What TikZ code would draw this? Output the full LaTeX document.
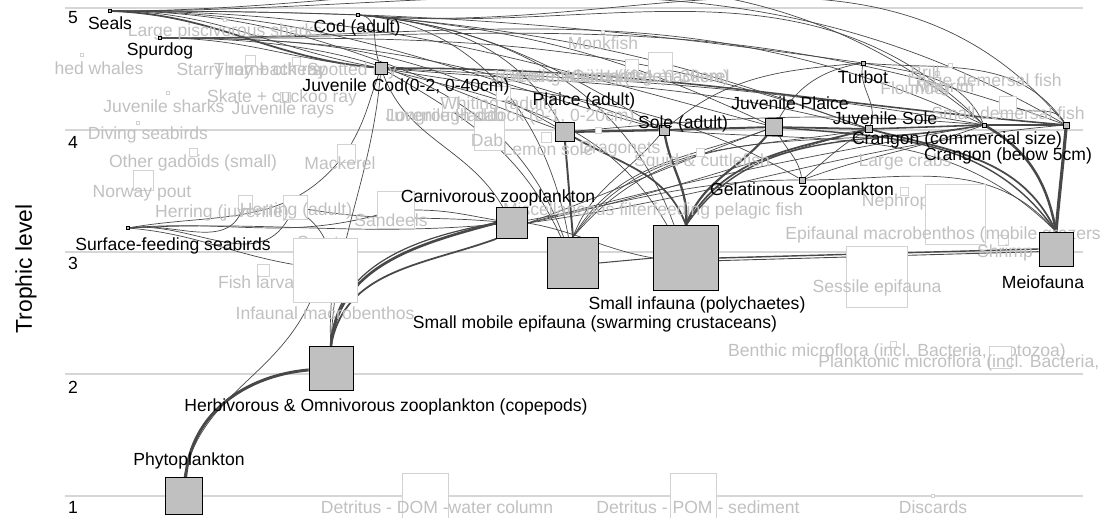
\documentclass[tikz,border=0pt]{standalone}
\usepackage{fontspec}
\setmainfont{Liberation Sans}
\usetikzlibrary{positioning}
\definecolor{eltgray}{RGB}{192,192,192}
\definecolor{ghost}{RGB}{192,192,192}
\definecolor{ghostline}{RGB}{210,210,210}
\definecolor{gridgray}{RGB}{214,214,214}
\definecolor{flow}{RGB}{72,72,72}
\pgfdeclarelayer{bg}
\pgfsetlayers{bg,main}

\begin{document}
\begin{tikzpicture}[
			x=0.02cm, y=-0.02cm, % one unit = one pixel of the plot
			elt/.style={rectangle,draw=black,fill=eltgray,inner sep=0pt,minimum size=#1*0.2mm},
			pale/.style={rectangle,draw=ghostline,fill=white,inner sep=0pt,minimum size=#1*0.2mm},
			lbl/.style={inner sep=0pt,font=\fontsize{10}{12}\selectfont},
			glbl/.style={lbl,text=ghost},
			flux/.style={draw=flow,line width=#1},
			flux/.default=0.4pt]
		\useasboundingbox (0,0) rectangle (1101,517);

		% axis
		\begin{pgfonlayer}{bg}
			\foreach \y in {8,130,252,374,496}
				\draw[gridgray,line width=0.6pt] (65,\y) -- (1083,\y);
		\end{pgfonlayer}
		\foreach \y/\l in {18/5,142/4,263/3,387/2,507/1}
			\node[lbl] (tl\l) at (73,\y) {\l};
		\node[lbl,font=\fontsize{13}{15}\selectfont,rotate=90] (ylab) at (26,269) {Trophic level};

		% groups outside the highlighted web
		\path 	(225,20) 	node (lps-n) 	[pale=3] {}
				(82,55) 	node (whales-n) [pale=3] {}
				(250,60) 	node (starry-n) [pale=10] {}
				(296,61) 	node (spotted-n) [pale=8] {}
				(168,93) 	node (jshark-n) [pale=3] {}
				(285,97) 	node (skate-n) 	[pale=10] {}
				(138,123) 	node (diving-n) [pale=3] {}
				(193,152) 	node (othgad-n) [pale=8] {}
				(346,153) 	node (mackerel-n) [pale=18] {}
				(143,180) 	node (norway-n) [pale=20] {}
				(245,202) 	node (herrj-n) 	[pale=14] {}
				(295,207) 	node (herra-n) 	[pale=24] {}
				(396,210) 	node (sandeel-n) [pale=37] {}
				(263,270) 	node (larvae-n) [pale=12] {}
				(603,32) 	node (monk-n) 	[pale=3] {}
				(632,66) 	node (gurn-n) 	[pale=13] {}
				(660,64) 	node (horse-n) 	[pale=24] {}
				(450,105) 	node (whiting-n) [pale=15] {}
				(503,93) 	node (jwhit-n) 	[pale=14] {}
				(489,135) 	node (dab-n) 	[pale=30] {}
				(546,137) 	node (lemon-n) 	[pale=10] {}
				(598,130) 	node (drag-n) 	[pale=6] {}
				(700,152) 	node (squid-n) 	[pale=8] {}
				(904,191) 	node (nephrops-n) [pale=8] {}
				(1003,240) 	node (shrimp-n) [pale=10] {}
				(877,277) 	node (sessile-n) [pale=61] {}
				(893,344) 	node (benthic-n) [pale=6] {}
				(425,496) 	node (dom-n) 	[pale=46] {}
				(693,496) 	node (pom-n) 	[pale=46] {}
				(933,496) 	node (discards-n) [pale=3] {}
				(1008,105) 	node (smdem-n) 	[pale=17] {}
				(950,65) 	node (brill-n) 	[pale=4] {}
				(937,73) 	node (flounder-n) [pale=4] {};

		\path 	(225,32) 	node (lps) 		[glbl] {Large piscivorous sharks}
				(99,68) 	node (whales) 	[glbl] {hed whales}
				(249,71) 	node (starry) 	[glbl] {Starry ray + others}
				(270,71) 	node (thorn) 	[glbl] {Thornback ray}
				(352,71) 	node (spotted) 	[glbl] {Spotted ray}
				(164,106) 	node (jshark) 	[glbl] {Juvenile sharks}
				(282,98) 	node (skate) 	[glbl] {Skate + cuckoo ray}
				(283,110) 	node (jrays) 	[glbl] {Juvenile rays}
				(148,135) 	node (diving) 	[glbl] {Diving seabirds}
				(193,163) 	node (othgad) 	[glbl] {Other gadoids (small)}
				(340,163) 	node (mackerel) [glbl] {Mackerel}
				(142,193) 	node (norway) 	[glbl] {Norway pout}
				(222,213) 	node (herrj) 	[glbl] {Herring (juvenile)}
				(296,211) 	node (herra) 	[glbl] {Herring (adult)}
				(391,220) 	node (sandeel) 	[glbl] {Sandeels}
				(318,244) 	node (sprat) 	[glbl] {Sprat}
				(261,282) 	node (larvae) 	[glbl] {Fish larvae}
				(325,313) 	node (infaunal) [glbl] {Infaunal macrobenthos}
				(603,43) 	node (monk) 	[glbl] {Monkfish}
				(610,78) 	node (jwhit) 	[glbl] {Juvenile Whiting (0-1, 0-30cm)}
				(585,78) 	node (othgadl) 	[glbl] {Other gadoids (large)}
				(608,76) 	node (gurn) 	[glbl] {Gurnards}
				(668,76) 	node (horse) 	[glbl] {Horse mackerel}
				(497,105) 	node (whiting) 	[glbl] {Whiting (adult)}
				(445,117) 	node (longrough) [glbl] {Longrough dab}
				(510,117) 	node (jhad) 	[glbl] {Juvenile Haddock (0-1, 0-20cm)}
				(487,140) 	node (dab) 		[glbl] {Dab}
				(548,149) 	node (lemon) 	[glbl] {Lemon sole}
				(620,149) 	node (drag) 	[glbl] {Dragonets}
				(702,162) 	node (squid) 	[glbl] {Squid \& cuttlefish}
				(905,162) 	node (crabs) 	[glbl] {Large crabs}
				(900,202) 	node (nephrops) [glbl] {Nephrops}
				(653,211) 	node (misc) 	[glbl] {Miscellaneous filterfeeding pelagic fish}
				(1005,253) 	node (shrimp) 	[glbl] {Shrimp}
				(877,288) 	node (sessile) 	[glbl] {Sessile epifauna}
				(897,352) 	node (benthic) 	[glbl] {Benthic microflora (incl. Bacteria, protozoa)}
				(437,507) 	node (dom) 		[glbl] {Detritus - DOM -water column}
				(698,507) 	node (pom) 		[glbl] {Detritus - POM - sediment}
				(933,507) 	node (discards) [glbl] {Discards}
				(1008,113) 	node (smdem) 	[glbl] {Small demersal fish}
				(1062,82) 	node (lgdem) 	[glbl,anchor=east] {Large demersal fish}
				(925,72) 	node (brill) 	[glbl] {Brill}
				(915,88) 	node (flounder) [glbl] {Flounder}
				(945,88) 	node (megrim) 	[glbl] {Megrim};

		% larger boxes lying over other labels
		\path 	(325,270) 	node (infaunal-n) [pale=64] {}
				(955,214) 	node (epifauna-n) [pale=60] {}
				(1000,357) 	node (plankt-n) [pale=22] {}
				(785,235) 	node (epifauna) [glbl,anchor=west] {Epifaunal macrobenthos (mobile grazers)}
				(818,363) 	node (plankt) 	[glbl,anchor=west] {Planktonic microflora (incl. Bacteria, protozoa)};

		% highlighted web
		\path 	(184,496) 	node (phyto) 	[elt=37] {}
				(331,368) 	node (herbzoo) 	[elt=44] {}
				(512,223) 	node (carnzoo) 	[elt=31] {}
				(573,263) 	node (smepi) 	[elt=51] {}
				(686,258) 	node (sminf) 	[elt=65] {}
				(1056,249) 	node (meio) 	[elt=34] {}
				(802,180) 	node (gelzoo) 	[elt=6] {}
				(565,132) 	node (plaice) 	[elt=19] {}
				(664,130) 	node (sole) 	[elt=10] {}
				(774,127) 	node (juvplaice) [elt=17] {}
				(869,129) 	node (juvsole) 	[elt=7] {}
				(984,125) 	node (crangc) 	[elt=4] {}
				(1066,125) 	node (crangs) 	[elt=6] {}
				(863,63) 	node (turbot) 	[elt=4] {}
				(381,68) 	node (juvcod) 	[elt=12] {}
				(358,15) 	node (cod) 		[elt=3] {}
				(110,11) 	node (seals) 	[elt=3] {}
				(160,38) 	node (spurdog) 	[elt=3] {}
				(128,228) 	node (seabirds) [elt=3] {};

		\path 	(189,461) 	node (phyto-l) 	[lbl] {Phytoplankton}
				(386,407) 	node (herbzoo-l) [lbl] {Herbivorous \& Omnivorous zooplankton (copepods)}
				(498,198) 	node (carnzoo-l) [lbl] {Carnivorous zooplankton}
				(595,324) 	node (smepi-l) 	[lbl] {Small mobile epifauna (swarming crustaceans)}
				(697,305) 	node (sminf-l) 	[lbl] {Small infauna (polychaetes)}
				(1043,282) 	node (meio-l) 	[lbl] {Meiofauna}
				(802,191) 	node (gelzoo-l) [lbl] {Gelatinous zooplankton}
				(584,101) 	node (plaice-l) [lbl] {Plaice (adult)}
				(683,124) 	node (sole-l) 	[lbl] {Sole (adult)}
				(790,103) 	node (juvplaice-l) [lbl] {Juvenile Plaice}
				(885,118) 	node (juvsole-l) [lbl] {Juvenile Sole}
				(957,140) 	node (crangc-l) [lbl] {Crangon (commercial size)}
				(1008,156) 	node (crangs-l) [lbl] {Crangon (below 5cm)}
				(863,77) 	node (turbot-l) [lbl] {Turbot}
				(406,87) 	node (juvcod-l) [lbl] {Juvenile Cod(0-2, 0-40cm)}
				(357,28) 	node (cod-l) 	[lbl] {Cod (adult)}
				(110,23) 	node (seals-l) 	[lbl] {Seals}
				(160,51) 	node (spurdog-l) [lbl] {Spurdog}
				(173,246) 	node (seabirds-l) [lbl] {Surface-feeding seabirds};

		\begin{pgfonlayer}{bg}
			% plankton
			\draw[flux=1.7pt] (phyto) to[out=85,in=185] (herbzoo);
			\draw[flux] (phyto.north) to[out=78,in=-115] (infaunal-n);
			\draw[flux=1.5pt] (herbzoo.north) to[out=85,in=195] (carnzoo.west);
			\draw[flux=1pt] (herbzoo.north) to[out=80,in=200] (carnzoo.south west);
			\draw[flux=0.7pt] (herbzoo.north) to[out=88,in=190] (carnzoo.west);
			\draw[flux] (herbzoo.north) to[out=95,in=-40] (herra-n);
			\draw[flux] (juvcod) to[out=-95,in=88] (herbzoo.north);
			\draw[flux] (juvcod) to[out=-110,in=60] (mackerel-n);
			\draw[flux] (carnzoo) to[out=10,in=180] (gelzoo);
			\draw[flux] (carnzoo.east) to[out=15,in=-170] (crangc);
			\draw[flux] (carnzoo.east) to[out=12,in=-165] (juvsole);
			\draw[flux] (carnzoo.east) to[out=8,in=-175] (crangs);
			\draw[flux] (carnzoo.east) to[out=20,in=-160] (juvplaice);
			\draw[flux] (carnzoo.east) to[out=-10,in=170] (sminf.west);
			% seabirds
			\draw[flux] (seabirds) to[out=5,in=195] (sandeel-n);
			\draw[flux] (seabirds) to[out=3,in=185] (carnzoo);
			\draw[flux] (seabirds) to[out=8,in=-110] (herrj-n);
			\draw[flux] (seabirds) to[out=6,in=-120] (herra-n);
			\draw[flux] (seabirds) to[out=-5,in=170] (infaunal-n);
			\draw[flux] (seabirds) to[out=10,in=-130] (mackerel-n);
			\draw[flux] (sandeel-n) to[out=0,in=170] (carnzoo);
			\draw[flux] (herra-n) to[out=-10,in=175] (carnzoo);
			% top predators
			\foreach \t/\i in {cod/178,juvcod/170,plaice/160,sole/165,juvplaice/165,turbot/172,crangc/140,crangs/150}
				\draw[flux] (seals) to[out=0,in=\i] (\t);
			\draw[flux=1pt] (seals) to[out=-2,in=175] (juvcod);
			\foreach \t/\i in {juvcod/175,plaice/150,sole/160,juvsole/160,crangc/155,crangs/160,smepi/110}
				\draw[flux] (spurdog) to[out=0,in=\i] (\t);
			\foreach \t/\i in {juvcod/110,plaice/120,sole/150,juvplaice/155,juvsole/160,crangc/135,crangs/130,smepi/100,sminf/110}
				\draw[flux] (cod) to[out=-5,in=\i] (\t);
			\foreach \t/\o/\i in {carnzoo/-70/120,smepi/-30/115,sminf/-15/120,crangc/-3/170,juvsole/-5/165,gelzoo/-10/150}
				\draw[flux] (juvcod) to[out=\o,in=\i] (\t);
			\draw[flux=0.9pt] (juvcod) to[out=0,in=175] (crangs);
			\draw[flux] (turbot) to[out=-5,in=125] (crangs);
			\draw[flux] (turbot) to[out=-10,in=115] (crangc);
			\draw[flux] (turbot) to[out=-100,in=70] (juvsole);
			\draw[flux] (turbot) to[out=-170,in=60] (juvplaice);
			\draw[flux] (turbot) to[out=-175,in=40] (sole);
			\draw[flux] (smdem-n) to[out=-20,in=120] (crangs);
			% flatfish and shrimp
			\draw[flux=1.3pt] (plaice) -- (sole);
			\draw[flux=1.1pt] (sole) -- (juvplaice);
			\draw[flux=1pt] (juvplaice) -- (juvsole);
			\draw[flux=0.9pt] (juvsole) -- (crangc);
			\draw[flux=0.9pt] (crangc) -- (crangs);
			\draw[flux] (plaice) to[out=5,in=175] (crangc);
			\draw[flux] (juvplaice) to[out=-60,in=100] (gelzoo);
			\draw[flux] (juvsole) to[out=-150,in=40] (gelzoo);
			\draw[flux] (crangc) to[out=-160,in=20] (gelzoo);
			% benthic prey
			\draw[flux=1.1pt] (plaice.south) to[out=-85,in=95] (smepi.north);
			\draw[flux=1pt] (plaice) to[out=-30,in=110] (sminf.north);
			\draw[flux=1.3pt] (sole) to[out=-80,in=85] (sminf.north);
			\draw[flux=1.2pt] (juvplaice) to[out=-130,in=70] (sminf.north);
			\draw[flux=1pt] (juvsole) to[out=-165,in=60] (sminf.north);
			\draw[flux=0.8pt] (crangc) to[out=-170,in=55] (sminf.north);
			\draw[flux] (sole) to[out=-130,in=70] (smepi.north);
			\draw[flux] (juvplaice) to[out=-160,in=60] (smepi.north);
			\draw[flux] (juvsole) to[out=-170,in=55] (smepi.north);
			\draw[flux] (crangc) to[out=-170,in=50] (smepi.north);
			\draw[flux=1.8pt] (crangs.south) to[out=-95,in=85] (meio.north);
			\draw[flux=1.4pt] (crangc) to[out=-30,in=100] (meio.north);
			\draw[flux=1pt] (juvsole) to[out=-15,in=115] (meio.north);
			\draw[flux=0.8pt] (juvplaice) to[out=-5,in=125] (meio.north);
			\draw[flux] (gelzoo) to[out=0,in=130] (meio.north);
			\draw[flux] (sole) to[out=-5,in=135] (meio.north);
			\draw[flux=0.6pt] (smepi.east) -- (sminf.west);
			\draw[flux=0.8pt] (sminf.east) -- (meio.west);
			\draw[flux=0.5pt] ([yshift=-1.5pt]sminf.east) -- ([yshift=-1.5pt]meio.west);
		\end{pgfonlayer}
	\end{tikzpicture}
\end{document}
